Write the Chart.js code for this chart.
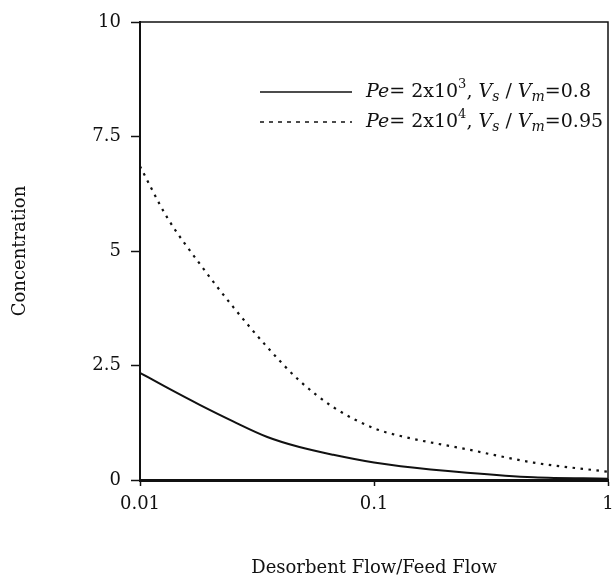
<!DOCTYPE html>
<html>
<head>
<meta charset="utf-8">
<script src="https://cdn.jsdelivr.net/npm/chart.js@4/dist/chart.umd.min.js"></script>
<style>
  html, body { margin: 0; padding: 0; background: #fff; }
  #wrap { width: 612px; height: 579px; }
</style>
</head>
<body>
<div id="wrap"><canvas id="concChart"></canvas></div>
<script>
// values
const flowRatio = [0.01, 0.013, 0.018, 0.025, 0.035, 0.048, 0.067, 0.1, 0.13, 0.25, 0.48, 1];
const concLowPe = [2.34, 2.02, 1.64, 1.28, 0.94, 0.72, 0.55, 0.38, 0.3, 0.16, 0.06, 0.03];
const concHighPe = [6.85, 5.75, 4.72, 3.78, 2.9, 2.17, 1.59, 1.13, 0.96, 0.67, 0.38, 0.18];
const peExponents = ['3', '4'];
const volumeRatios = ['0.8', '0.95'];
const xTicks = [0.01, 0.1, 1];
const yTicks = [0, 2.5, 5, 7.5, 10];

const FONT = '"DejaVu Serif", serif';
Chart.defaults.font.family = FONT;
Chart.defaults.color = '#111';

// legend with italics, super- and subscripts, drawn on the canvas
const richLegend = {
    id: 'richLegend',
    afterDraw(chart) {
        const ctx = chart.ctx;
        const area = chart.chartArea;
        ctx.save();
        chart.data.datasets.forEach((ds, i) => {
            const y = area.top + 70 + i * 30;
            const x0 = area.left + 120;
            ctx.strokeStyle = ds.borderColor;
            ctx.lineWidth = 1.5;
            ctx.setLineDash(ds.borderDash ? [4, 5] : []);
            ctx.beginPath();
            ctx.moveTo(x0, y);
            ctx.lineTo(x0 + 92, y);
            ctx.stroke();
            ctx.setLineDash([]);

            const segs = [
                ['Pe', 'italic', 0, 19],
                ['= 2x10', 'normal', 0, 19],
                [peExponents[i], 'normal', -7, 13],
                [', ', 'normal', 0, 19],
                ['V', 'italic', 0, 19],
                ['s', 'italic', 5, 14],
                [' / ', 'normal', 0, 19],
                ['V', 'italic', 0, 19],
                ['m', 'italic', 5, 14],
                ['=' + volumeRatios[i], 'normal', 0, 19]
            ];
            let x = x0 + 106;
            ctx.fillStyle = '#111';
            ctx.textBaseline = 'middle';
            segs.forEach(([t, style, dy, size]) => {
                ctx.font = style + ' ' + size + 'px ' + FONT;
                ctx.fillText(t, x, y + dy);
                x += ctx.measureText(t).width;
            });
        });
        ctx.restore();
    }
};

// top and right frame lines
const frame = {
    id: 'frame',
    afterDraw(chart) {
        const { ctx, chartArea: a } = chart;
        ctx.save();
        ctx.strokeStyle = '#111';
        ctx.lineWidth = 1.5;
        ctx.beginPath();
        ctx.moveTo(a.left, a.top);
        ctx.lineTo(a.right, a.top);
        ctx.lineTo(a.right, a.bottom);
        ctx.stroke();
        ctx.restore();
    }
};

const ctxLine = document.getElementById('concChart');
new Chart(ctxLine, {
    type: 'line',
    data: {
        labels: flowRatio,
        datasets: [{
            label: 'Pe=2x10^3',
            data: flowRatio.map((x, i) => ({ x: x, y: concLowPe[i] })),
            borderColor: '#111',
            borderWidth: 2,
            pointRadius: 0,
            cubicInterpolationMode: 'monotone'
        }, {
            label: 'Pe=2x10^4',
            data: flowRatio.map((x, i) => ({ x: x, y: concHighPe[i] })),
            borderColor: '#111',
            borderWidth: 2.2,
            borderDash: [2.5, 5.5],
            pointRadius: 0,
            cubicInterpolationMode: 'monotone'
        }]
    },
    options: {
        responsive: true,
        maintainAspectRatio: false,
        animation: false,
        layout: { padding: { top: 22, right: 4, left: 0, bottom: 0 } },
        plugins: {
            legend: { display: false },
            tooltip: { enabled: false }
        },
        scales: {
            x: {
                type: 'logarithmic',
                min: 0.01,
                max: 1,
                afterBuildTicks: (s) => { s.ticks = xTicks.map(v => ({ value: v })); },
                afterFit: (s) => { s.height = 99; s.paddingRight = 4; s.paddingLeft = 0; },
                ticks: {
                    autoSkip: false,
                    maxRotation: 0,
                    padding: 8,
                    font: { size: 18 },
                    callback: (v) => String(v)
                },
                grid: { drawOnChartArea: false, tickLength: 6, color: '#111', tickWidth: 1.5 },
                border: { color: '#111', width: 3 },
                title: {
                    display: true,
                    text: 'Desorbent Flow/Feed Flow',
                    font: { size: 18 },
                    padding: { top: 0, bottom: 0 }
                }
            },
            y: {
                min: 0,
                max: 10,
                afterBuildTicks: (s) => { s.ticks = yTicks.map(v => ({ value: v })); },
                afterFit: (s) => { s.width = 140; },
                ticks: {
                    padding: 10,
                    font: { size: 18 },
                    callback: (v) => String(v)
                },
                grid: { drawOnChartArea: false, tickLength: 9, color: '#111', tickWidth: 1.5 },
                border: { color: '#111', width: 2 },
                title: {
                    display: true,
                    text: 'Concentration',
                    font: { size: 18 },
                    padding: { top: 10, bottom: 0 }
                }
            }
        }
    },
    plugins: [richLegend, frame]
});
</script>
</body>
</html>
